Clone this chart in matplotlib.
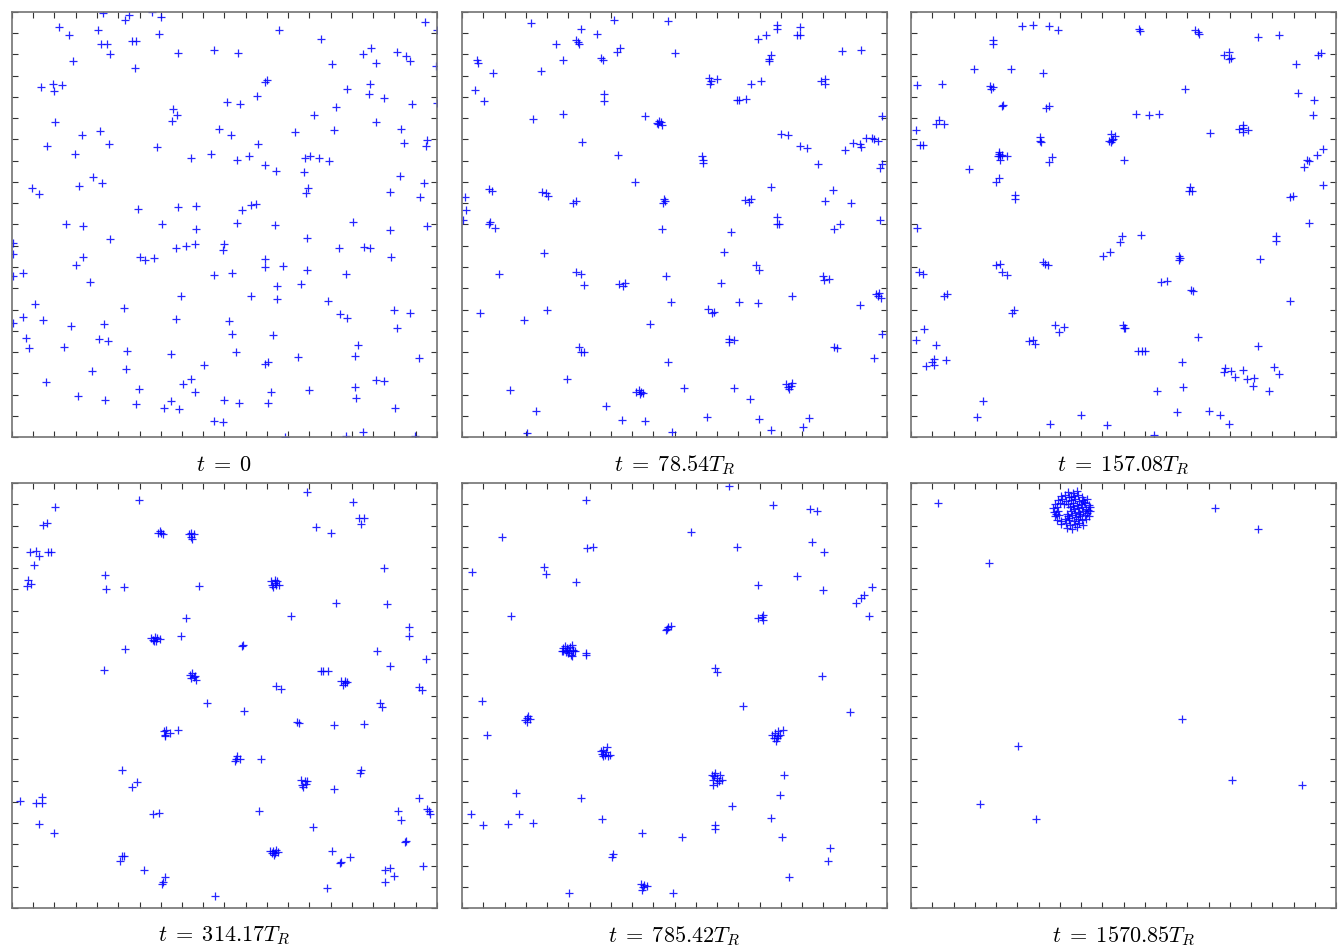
import numpy as np
from matplotlib import pyplot as plt

plt.rcParams['mathtext.fontset'] = 'cm'

L = 425  # box side (arbitrary units)

labels = [r"$t\;=\;0$", r"$t\;=\;78.54T_R$", r"$t\;=\;157.08T_R$",
          r"$t\;=\;314.17T_R$", r"$t\;=\;785.42T_R$", r"$t\;=\;1570.85T_R$"]

# particle positions
pts_0 = [(91,424),(117,422),(113,417),(140,425),(149,420),(47,410),(57,402),(86,407),(147,403),(267,407),
         (413,415),(425,407),(89,393),(95,393),(120,396),(124,396),(309,398),(98,383),(166,384),(202,387),
         (226,384),(351,383),(359,389),(385,385),(394,381),(398,376),(364,374),(61,376),(320,373),(424,371),
         (123,369),(29,350),(41,353),(50,352),(42,346),(253,355),(255,357),(335,348),(358,353),(357,343),
         (372,339),(245,341),(215,335),(228,333),(400,333),(425,334),(161,328),(165,322),(160,316),(324,330),
         (302,322),(364,315),(43,315),(207,308),(219,302),(283,305),(322,307),(389,308),(88,306),(70,302),
         (35,291),(97,293),(145,290),(246,293),(392,294),(415,297),(414,291),(63,283),(179,279),(199,283),
         (225,277),(237,281),(293,279),(298,281),(307,279),(317,276),(253,272),(264,266),(292,265),(81,260),
         (67,251),(90,254),(388,261),(412,254),(20,249),(27,243),(296,249),(294,244),(378,245),(408,240),
         (126,228),(166,230),(184,231),(230,227),(239,232),(244,233),(54,213),(71,211),(150,213),(225,214),
         (263,212),(341,215),(378,207),(415,211),(184,208),(98,198),(295,199),(1,194),(1,183),(164,189),
         (174,191),(183,193),(212,193),(211,187),(327,189),(352,190),(358,189),(379,180),(71,180),(64,172),
         (128,180),(133,177),(142,179),(253,178),(253,170),(271,171),(295,167),(11,164),(1,161),(202,162),
         (220,164),(334,163),(78,155),(265,151),(289,153),(169,141),(239,141),(265,138),(23,133),(316,136),
         (112,129),(11,120),(31,117),(1,114),(59,111),(92,113),(164,118),(217,116),(328,123),(335,119),
         (382,127),(398,124),(385,109),(14,99),(17,89),(52,90),(87,98),(96,96),(220,103),(261,102),
         (115,86),(159,83),(224,85),(346,92),(343,81),(286,80),(407,79),(192,72),(253,73),(256,75),
         (80,66),(114,68),(34,55),(179,58),(171,53),(364,57),(372,56),(127,48),(183,45),(259,45),
         (297,47),(343,50),(66,41),(93,37),(124,33),(159,36),(152,29),(167,28),(212,37),(227,34),
         (256,34),(344,39),(383,29),(202,16),(211,15),(351,5),(273,0),(334,1),(403,1)]

pts_1 = [(69,414),(152,417),(206,416),(119,408),(135,403),(94,393),(114,397),(116,395),(117,393),(315,412),
         (315,408),(338,410),(335,402),(338,402),(304,402),(296,398),(158,389),(155,385),(213,384),(380,386),
         (399,387),(15,377),(16,374),(101,377),(139,379),(141,377),(307,378),(309,382),(307,376),(31,364),
         (79,366),(247,359),(249,356),(255,358),(248,353),(289,353),(299,356),(359,356),(363,358),(363,353),
         (13,347),(22,336),(142,343),(142,336),(275,337),(277,337),(284,338),(71,318),(101,323),(183,321),
         (195,314),(197,316),(199,315),(200,312),(196,313),(420,321),(319,303),(326,302),(120,295),(338,291),
         (345,289),(383,287),(391,294),(398,293),(399,290),(404,299),(410,299),(412,298),(416,296),(156,282),
         (240,281),(241,277),(241,274),(356,273),(420,273),(418,269),(173,255),(309,250),(371,247),(363,236),
         (389,234),(3,240),(4,227),(1,217),(27,248),(30,246),(80,245),(84,244),(86,241),(111,234),
         (114,236),(202,238),(201,234),(203,236),(283,237),(287,235),(289,238),(27,213),(28,215),(33,209),
         (200,208),(315,220),(315,213),(317,213),(372,208),(378,213),(418,217),(269,205),(82,184),(262,185),
         (37,163),(114,165),(119,163),(122,152),(157,153),(161,151),(163,154),(204,161),(294,172),(297,167),
         (259,154),(361,161),(362,157),(367,158),(414,143),(416,141),(419,139),(417,144),(330,141),(209,135),
         (277,135),(296,134),(398,132),(18,124),(85,127),(62,117),(188,113),(246,128),(250,124),(252,125),
         (267,98),(267,95),(272,97),(420,103),(117,90),(119,85),(122,85),(372,90),(375,89),(206,75),
         (412,79),(105,58),(48,47),(174,45),(177,47),(179,45),(181,44),(178,43),(222,49),(272,49),
         (288,38),(324,53),(326,50),(329,51),(330,54),(327,48),(144,31),(74,26),(160,17),(183,16),
         (245,20),(297,18),(347,19),(341,10),(309,7),(65,4),(210,5)]

pts_2 = [(111,411),(122,412),(138,411),(147,407),(228,408),(229,406),(284,407),(287,405),(288,403),(347,400),
         (368,402),(82,397),(82,393),(313,382),(318,385),(320,379),(318,378),(407,382),(410,384),(63,368),
         (100,368),(132,364),(385,373),(6,352),(31,353),(79,351),(82,350),(80,348),(274,348),(387,344),
         (403,337),(91,331),(92,332),(135,329),(138,331),(225,323),(238,322),(248,323),(402,322),(28,317),
         (25,313),(33,313),(5,307),(9,292),(12,292),(129,300),(129,296),(130,295),(200,303),(204,301),
         (198,296),(201,297),(200,295),(202,298),(299,304),(328,308),(332,312),(332,309),(337,307),(332,305),
         (88,283),(89,281),(87,281),(91,282),(96,281),(89,277),(88,285),(141,280),(138,275),(213,277),
         (412,288),(406,282),(396,277),(398,276),(393,270),(58,268),(88,259),(85,255),(104,242),(104,238),
         (279,250),(278,246),(281,246),(412,252),(379,240),(382,241),(6,209),(398,214),(211,201),(230,202),
         (209,195),(365,201),(365,196),(192,181),(199,185),(349,178),(268,181),(269,179),(268,177),(85,172),
         (89,173),(132,175),(134,173),(137,172),(91,165),(96,162),(8,165),(12,163),(250,155),(256,156),
         (280,147),(282,146),(33,141),(36,143),(379,136),(103,127),(101,124),(144,112),(148,105),(153,110),
         (212,112),(213,109),(214,109),(13,108),(5,97),(25,92),(118,96),(122,97),(124,93),(287,100),
         (347,91),(227,86),(231,86),(234,86),(15,71),(21,75),(23,78),(23,72),(35,77),(271,75),
         (314,69),(313,65),(320,66),(324,60),(332,67),(336,58),(343,59),(342,51),(363,70),(368,63),
         (358,46),(246,46),(272,50),(72,36),(66,20),(170,22),(139,13),(196,12),(266,25),(298,26),
         (309,22),(318,13),(243,2)]

pts_3 = [(295,416),(127,408),(43,401),(341,406),(31,383),(35,385),(304,381),(319,375),(347,390),(352,390),
         (349,384),(146,375),(149,375),(151,374),(148,377),(177,374),(179,375),(182,374),(180,369),(179,371),
         (18,356),(24,357),(27,352),(36,356),(39,356),(22,343),(16,328),(15,322),(19,324),(372,340),
         (93,333),(94,319),(112,321),(187,322),(259,327),(263,328),(265,327),(260,323),(264,323),(267,323),
         (261,321),(263,325),(324,305),(375,304),(279,292),(174,290),(139,270),(143,271),(145,270),(148,269),
         (142,267),(144,267),(141,268),(169,272),(113,259),(397,281),(397,272),(365,257),(230,262),(231,263),
         (414,249),(378,242),(92,238),(178,233),(180,235),(183,232),(179,230),(184,228),(182,231),(309,237),
         (311,237),(316,237),(329,227),(331,223),(333,227),(335,226),(333,225),(264,222),(269,219),(407,221),
         (410,218),(195,205),(232,197),(368,205),(370,201),(285,186),(287,185),(322,183),(352,184),(152,177),
         (154,178),(153,173),(158,175),(153,172),(166,178),(223,147),(225,152),(228,149),(224,149),(249,149),
         (110,138),(120,121),(125,126),(289,128),(293,127),(295,127),(290,123),(291,121),(294,124),(349,138),
         (348,135),(322,119),(8,107),(24,105),(30,111),(30,105),(407,110),(415,99),(417,97),(418,94),
         (386,97),(389,88),(141,94),(147,95),(247,97),(301,81),(27,84),(42,75),(394,67),(393,66),
         (258,57),(261,57),(264,58),(263,55),(266,56),(260,55),(262,53),(110,52),(108,47),(112,52),
         (320,57),(328,45),(329,46),(338,51),(132,38),(153,31),(151,26),(150,24),(373,38),(378,40),
         (382,32),(373,26),(411,42),(315,20),(203,12)]

pts_4 = [(267,422),(124,408),(311,403),(348,399),(355,397),(40,371),(229,376),(275,361),(350,366),(362,356),
         (125,360),(131,361),(10,336),(82,341),(84,334),(114,326),(335,332),(296,323),(361,318),(410,321),
         (402,313),(399,310),(394,305),(407,292),(49,292),(296,290),(300,291),(301,288),(301,293),(204,278),
         (206,281),(209,282),(205,279),(101,260),(103,262),(105,260),(108,261),(111,258),(113,257),(101,257),
         (104,256),(106,255),(109,253),(111,257),(110,263),(105,258),(107,257),(100,257),(110,252),(124,255),
         (124,253),(253,240),(255,236),(360,232),(20,207),(281,202),(388,196),(63,188),(65,190),(68,189),
         (65,186),(66,192),(25,173),(310,173),(313,175),(316,177),(321,178),(315,170),(318,173),(314,167),
         (316,172),(312,170),(139,157),(141,158),(145,161),(143,153),(146,152),(141,152),(144,156),(148,153),
         (140,154),(250,133),(253,135),(258,133),(251,128),(255,130),(260,128),(251,123),(255,125),(257,127),
         (252,132),(322,133),(318,113),(54,115),(119,110),(270,102),(9,94),(21,83),(46,84),(57,94),
         (71,85),(140,89),(309,90),(253,83),(253,79),(180,75),(220,71),(320,71),(368,60),(366,47),
         (151,54),(150,51),(327,31),(179,24),(181,21),(185,22),(180,18),(182,23),(107,15),(211,15)]

pts_5 = [(27,405),(304,400),(347,379),(78,345),(271,189),(107,162),(321,128),(391,123),(69,104),(125,89),
         (156,380),(161,379),(166,381),(150,384),(155,385),(159,383),(164,384),(168,385),(172,383),
         (146,388),(150,387),(154,389),(158,388),(163,387),(167,389),(171,388),(175,389),
         (144,392),(148,393),(157,392),(161,393),(165,391),(169,392),(174,393),(178,392),
         (143,396),(147,397),(160,397),(164,395),(168,396),(172,397),(176,395),(179,397),
         (142,400),(146,401),(159,401),(163,399),(167,400),(171,401),(175,399),(179,401),
         (144,404),(149,405),(153,404),(157,404),(162,405),(166,403),(170,404),(174,405),(178,403),
         (147,408),(151,409),(155,407),(160,408),(164,409),(168,407),(172,408),(176,409),
         (150,412),(154,413),(158,411),(163,412),(167,413),(171,411),
         (157,416),(162,415),(166,417),(169,394),(158,390),(173,406),(160,411),
         (145,394),(177,398),(162,402),(156,394)]

snapshots = [pts_0, pts_1, pts_2, pts_3, pts_4, pts_5]

fig = plt.figure(figsize=(13.43, 9.5), dpi=100)
W, H = 1343, 950
lefts = [12, 462, 911]
tops = [12, 483]
size = 425

for i, pts in enumerate(snapshots):
    r, c = divmod(i, 3)
    ax = fig.add_axes([lefts[c] / W, 1 - (tops[r] + size) / H, size / W, size / H])
    p = np.array(pts, dtype=float)
    ax.plot(p[:, 0], p[:, 1], '+', color='blue', ms=5.5, mew=0.9, alpha=0.85)
    ax.set_xlim(0, L)
    ax.set_ylim(0, L)
    ax.set_xticks(np.linspace(0, L, 21))
    ax.set_yticks(np.linspace(0, L, 21))
    ax.tick_params(direction='in', top=True, right=True, labelbottom=False,
                   labelleft=False, length=4, width=0.8, color='0.2')
    for s in ax.spines.values():
        s.set_color('0.45')
        s.set_linewidth(1.2)
    ax.text(0.5, -0.066, labels[i], transform=ax.transAxes, ha='center', va='center',
            fontsize=16)

plt.savefig("out.png", dpi=100)
